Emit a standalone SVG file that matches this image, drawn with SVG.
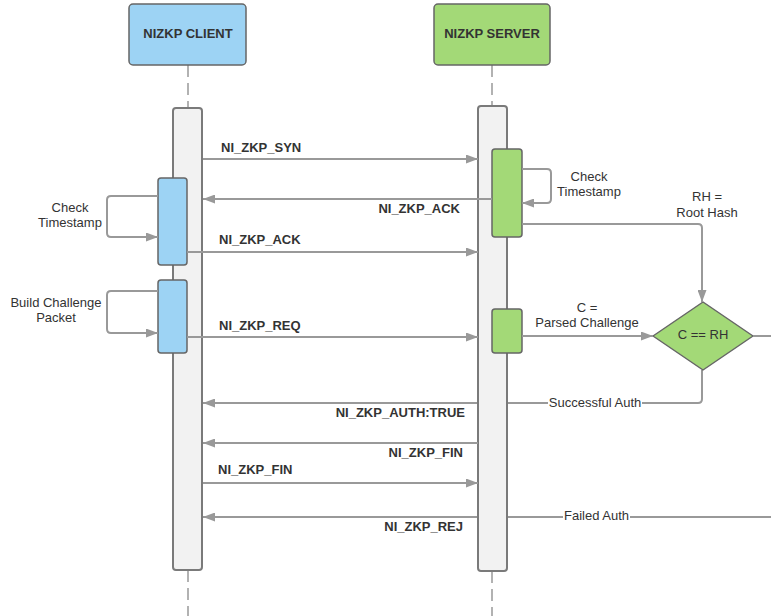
<svg xmlns="http://www.w3.org/2000/svg" width="771" height="616" viewBox="0 0 771 616">
<defs>
<marker id="ah" markerUnits="userSpaceOnUse" markerWidth="12" markerHeight="9" refX="12" refY="4.5" orient="auto">
<path d="M0,0 L12,4.5 L0,9 z" fill="#999"/>
</marker>
<style>
.hdr{stroke:#666;stroke-width:1.5}
.bar{fill:#f2f2f2;stroke:#7a7a7a;stroke-width:2}
.act{stroke:#666;stroke-width:1.5}
.blue{fill:#9dd3f4}
.green{fill:#a3d977}
.life{stroke:#999;stroke-width:1.5;stroke-dasharray:12 6;fill:none}
.ln{stroke:#999;stroke-width:2;fill:none}
.arr{stroke:#999;stroke-width:2;fill:none;marker-end:url(#ah)}
.b{font-family:"Liberation Sans",Arial,sans-serif;font-size:13px;font-weight:bold;fill:#333}
.t{font-family:"Liberation Sans",Arial,sans-serif;font-size:13px;fill:#333}
</style>
</defs>
<rect width="771" height="616" fill="#fff"/>

<g id="client">
<line class="life" x1="188" y1="65" x2="188" y2="108"/>
<line class="life" x1="188" y1="570" x2="188" y2="616"/>
<rect class="hdr blue" x="129" y="4" width="117" height="61" rx="4"/>
<text class="b" x="188" y="38" text-anchor="middle">NIZKP CLIENT</text>
<rect class="bar" x="173" y="108" width="29" height="462" rx="3"/>
</g>

<g id="server">
<line class="life" x1="492" y1="65" x2="492" y2="106"/>
<line class="life" x1="492" y1="571" x2="492" y2="616"/>
<rect class="hdr green" x="434" y="4" width="116" height="61" rx="4"/>
<text class="b" x="492" y="38" text-anchor="middle">NIZKP SERVER</text>
</g>

<g id="connectors">
<!-- auth lines drawn under server bar -->
<path class="arr" d="M702,370 V399 Q702,403 698,403 H203"/>
<rect x="548" y="394" width="94" height="14" fill="#fff"/>
<text class="t" x="595" y="407" text-anchor="middle">Successful Auth</text>
<path class="arr" d="M771,517 H203"/>
<rect x="563" y="508" width="67" height="14" fill="#fff"/>
<text class="t" x="596.5" y="520" text-anchor="middle">Failed Auth</text>
</g>

<g id="server-bar">
<rect class="bar" x="478" y="106" width="29" height="465" rx="3"/>
</g>

<g id="client-act1">
<rect class="act blue" x="158" y="178" width="29" height="87" rx="3"/>
</g>
<g id="client-act2">
<rect class="act blue" x="158" y="280" width="29" height="73" rx="3"/>
</g>
<g id="server-act1">
<rect class="act green" x="492" y="149" width="30" height="88" rx="3"/>
</g>
<g id="server-act2">
<rect class="act green" x="492" y="309" width="30" height="44" rx="3"/>
</g>
<g id="decision">
<polygon points="703,302 753,336 703,370 653,336" fill="#a3d977" stroke="#666" stroke-width="1.5" stroke-linejoin="round"/>
<text class="t" x="703" y="339" text-anchor="middle">C == RH</text>
</g>

<g id="messages">
<path class="arr" d="M203,159 H478"/>
<text class="b" x="221" y="152">NI_ZKP_SYN</text>

<path class="arr" d="M492,199 H203"/>
<text class="b" x="460" y="213" text-anchor="end">NI_ZKP_ACK</text>

<path class="arr" d="M187,252 H478"/>
<text class="b" x="219" y="244">NI_ZKP_ACK</text>

<path class="arr" d="M187,337 H478"/>
<text class="b" x="219" y="330">NI_ZKP_REQ</text>

<text class="b" x="465" y="417" text-anchor="end">NI_ZKP_AUTH:TRUE</text>

<path class="arr" d="M478,443 H203"/>
<text class="b" x="463" y="457" text-anchor="end">NI_ZKP_FIN</text>

<path class="arr" d="M203,483 H478"/>
<text class="b" x="218" y="474">NI_ZKP_FIN</text>

<text class="b" x="463" y="531" text-anchor="end">NI_ZKP_REJ</text>

<!-- self loops -->
<path class="arr" d="M158,196 H111 Q107,196 107,200 V233 Q107,237 111,237 H158"/>
<text class="t" x="70" y="212" text-anchor="middle">Check</text>
<text class="t" x="70" y="227" text-anchor="middle">Timestamp</text>

<path class="arr" d="M158,291 H111 Q107,291 107,295 V329 Q107,333 111,333 H158"/>
<text class="t" x="56" y="307" text-anchor="middle">Build Challenge</text>
<text class="t" x="56" y="322" text-anchor="middle">Packet</text>

<path class="arr" d="M522,169 H547 Q551,169 551,173 V199 Q551,203 547,203 H522"/>
<text class="t" x="589" y="181" text-anchor="middle">Check</text>
<text class="t" x="589" y="196" text-anchor="middle">Timestamp</text>

<path class="arr" d="M522,224 H698 Q702,224 702,228 V302"/>
<text class="t" x="707" y="201" text-anchor="middle">RH =</text>
<text class="t" x="707" y="217" text-anchor="middle">Root Hash</text>

<path class="arr" d="M522,336 H653"/>
<text class="t" x="587" y="312" text-anchor="middle">C =</text>
<text class="t" x="587" y="327" text-anchor="middle">Parsed Challenge</text>

<path class="ln" d="M753,336 H771"/>
</g>
</svg>
